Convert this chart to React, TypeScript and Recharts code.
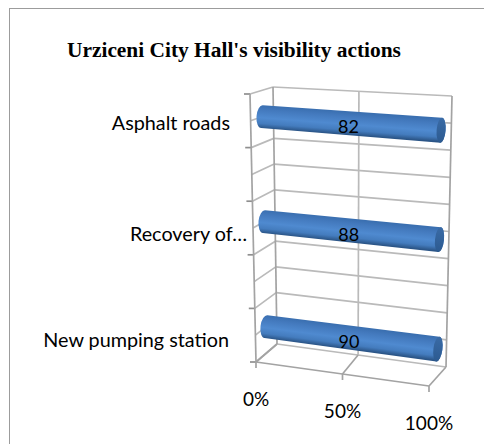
import { BarChart, Bar, XAxis, YAxis, CartesianGrid } from 'recharts';

const categories = ['Asphalt roads', 'Recovery of…', 'New pumping station'];
const values = [82, 88, 90];
const shareTicks = [0, 0.5, 1];
const wallSteps = [0, 1, 2, 3, 4, 5, 6, 7, 8, 9, 10];

const chartData = categories.map((name, i) => ({ name, value: values[i] }));

const WIDTH = 484;
const HEIGHT = 444;
const plot = { left: 256, right: 430, top: 94, bottom: 362 };
const plotW = plot.right - plot.left;
const plotH = plot.bottom - plot.top;

const labelFont = 'Lato, "Open Sans", sans-serif';
const gridColor = '#bababa';
const axisColor = '#a3a3a3';
const labelEnds = [230, 247, 229];
const labelShift = [1, 5, 4];

// corners of the fake 3D box: f = front, b = back
const fTL = [250, 94];
const fTR = [431, 110];
const fBL = [256, 362];
const fBR = [429, 386];
const bTL = [273, 87];
const bTR = [452, 96];
const bBL = [277, 344];
const bBR = [446, 367];

const mix = (a: number[], b: number[], t: number) => [a[0] + (b[0] - a[0]) * t, a[1] + (b[1] - a[1]) * t];

// u: along the value axis, v: top to bottom, d: front (0) to back (1)
const box = (u: number, v: number, d: number) => {
  const front = mix(mix(fTL, fTR, u), mix(fBL, fBR, u), v);
  // the back wall is squeezed a bit towards the left, like the perspective in the picture
  const ub = u * (1 - 0.08 * (1 - u));
  const back = mix(mix(bTL, bTR, ub), mix(bBL, bBR, ub), v);
  return mix(front, back, d);
};

const toU = (x: number) => (x - plot.left) / plotW;
const toV = (y: number) => (y - plot.top) / plotH;

const Seg = ({ a, b, color = gridColor, w = 1.7 }: { a: number[]; b: number[]; color?: string; w?: number }) => (
  <line x1={a[0]} y1={a[1]} x2={b[0]} y2={b[1]} stroke={color} strokeWidth={w} />
);

const WallLine = ({ step }: { step: number }) => {
  const v = step / 10;
  const front = box(0, v, 0);
  return (
    <g>
      <Seg a={box(0, v, 1)} b={box(1, v, 1)} />
      <Seg a={front} b={box(0, v, 1)} />
      {step % 2 === 0 && <Seg a={[front[0] - 6, front[1]]} b={front} color="#8f8f8f" />}
    </g>
  );
};

const FloorLine = (props: any) => {
  const u = toU(props.x1);
  const front = box(u, 1, 0);
  return (
    <g key={`floor-${u}`}>
      {u === 0 && wallSteps.map((s) => <WallLine key={s} step={s} />)}
      <Seg a={box(u, 0, 1)} b={box(u, 1, 1)} color={u === 0 || u === 1 ? axisColor : gridColor} />
      <Seg a={front} b={box(u, 1, 1)} color={axisColor} />
      <Seg a={front} b={[front[0], front[1] + 6]} color={axisColor} />
      {u === 0 && <Seg a={box(0, 0, 0)} b={box(0, 1, 0)} color={axisColor} />}
      {u === 0 && <Seg a={box(0, 1, 0)} b={box(1, 1, 0)} color={axisColor} />}
    </g>
  );
};

const Cylinder = (props: any) => {
  const { x, y, width, height, index, payload } = props;
  const v = toV(y + height / 2);
  const L = box(toU(x), v, 0.5);
  const R = box(toU(x + width), v, 0.5);
  const rL = height / 2;
  const rR = height / 2 + 1;
  const dx = R[0] - L[0];
  const dy = R[1] - L[1];
  const len = Math.hypot(dx, dy);
  const nx = -dy / len;
  const ny = dx / len;
  const deg = (Math.atan2(ny, nx) * 180) / Math.PI - 90;
  const mid = mix(L, R, 0.5);
  const id = `tube-${index}`;
  const capId = `cap-${index}`;
  const body = [
    `M${L[0] - nx * rL},${L[1] - ny * rL}`,
    `L${R[0] - nx * rR},${R[1] - ny * rR}`,
    `A4.5,${rR} ${deg} 0 1 ${R[0] + nx * rR},${R[1] + ny * rR}`,
    `L${L[0] + nx * rL},${L[1] + ny * rL}`,
    `A5.5,${rL} ${deg} 0 1 ${L[0] - nx * rL},${L[1] - ny * rL}`,
    'Z',
  ].join(' ');
  return (
    <g>
      <defs>
        <linearGradient
          id={id}
          gradientUnits="userSpaceOnUse"
          x1={mid[0] - nx * rL}
          y1={mid[1] - ny * rL}
          x2={mid[0] + nx * rL}
          y2={mid[1] + ny * rL}
        >
          <stop offset="0" stopColor="#3a6fb0" />
          <stop offset="0.2" stopColor="#4379bd" />
          <stop offset="0.55" stopColor="#4f8ad0" />
          <stop offset="0.8" stopColor="#447cbe" />
          <stop offset="1" stopColor="#2b5587" />
        </linearGradient>
        <linearGradient id={capId} x1="0" y1="0" x2="0" y2="1">
          <stop offset="0" stopColor="#3a6ba6" />
          <stop offset="1" stopColor="#2c5a90" />
        </linearGradient>
      </defs>
      <path d={body} fill={`url(#${id})`} />
      <ellipse
        cx={R[0]}
        cy={R[1]}
        rx={4.5}
        ry={rR}
        transform={`rotate(${deg} ${R[0]} ${R[1]})`}
        fill={`url(#${capId})`}
      />
      <text
        x={mid[0] - 3}
        y={mid[1] + 3}
        textAnchor="middle"
        dominantBaseline="central"
        fontFamily={labelFont}
        fontSize={18}
        fill="#000"
      >
        {payload.value}
      </text>
    </g>
  );
};

const CategoryTick = (props: any) => {
  const { y, index, payload } = props;
  return (
    <text
      x={labelEnds[index]}
      y={box(0, toV(y), 0)[1] + labelShift[index]}
      textAnchor="end"
      dominantBaseline="central"
      fontFamily={labelFont}
      fontSize={19.8}
      fill="#000"
    >
      {payload.value}
    </text>
  );
};

const ShareTick = (props: any) => {
  const { x, payload } = props;
  const p = box(toU(x), 1, 0);
  return (
    <text
      x={p[0]}
      y={p[1] + 36}
      textAnchor="middle"
      dominantBaseline="central"
      fontFamily={labelFont}
      fontSize={19}
      fill="#000"
    >
      {`${payload.value * 100}%`}
    </text>
  );
};

export default function App() {
  return (
    <div style={{ position: 'absolute', left: 0, top: 0, width: WIDTH, height: HEIGHT, background: '#fff', overflow: 'hidden' }}>
      <div
        style={{
          position: 'absolute',
          left: 9,
          top: 8,
          width: WIDTH,
          height: HEIGHT,
          borderLeft: '1.5px solid #9c9c9c',
          borderTop: '1.5px solid #9c9c9c',
        }}
      />
      <div
        style={{
          position: 'absolute',
          left: 67,
          top: 38,
          fontFamily: '"Liberation Serif", serif',
          fontWeight: 'bold',
          fontSize: 21.4,
          color: '#000',
          whiteSpace: 'nowrap',
        }}
      >
        Urziceni City Hall's visibility actions
      </div>
      <div style={{ position: 'absolute', left: 0, top: 0 }}>
        <BarChart
          width={WIDTH}
          height={HEIGHT}
          data={chartData}
          layout="vertical"
          stackOffset="expand"
          margin={{ left: plot.left - 1, right: WIDTH - plot.right, top: plot.top, bottom: HEIGHT - plot.bottom - 1 }}
        >
          <CartesianGrid xAxisId="share" yAxisId="cat" horizontal={false} vertical={FloorLine} />
          <XAxis
            xAxisId="share"
            type="number"
            domain={[0, 1]}
            ticks={shareTicks}
            interval={0}
            height={1}
            axisLine={false}
            tickLine={false}
            tick={ShareTick}
          />
          <YAxis
            yAxisId="cat"
            type="category"
            dataKey="name"
            width={1}
            interval={0}
            axisLine={false}
            tickLine={false}
            tick={CategoryTick}
            padding={{ top: -plotH * 0.1, bottom: -plotH * 0.1 }}
          />
          <Bar
            xAxisId="share"
            yAxisId="cat"
            dataKey="value"
            stackId="all"
            barSize={23}
            shape={Cylinder}
            isAnimationActive={false}
          />
        </BarChart>
      </div>
    </div>
  );
}
